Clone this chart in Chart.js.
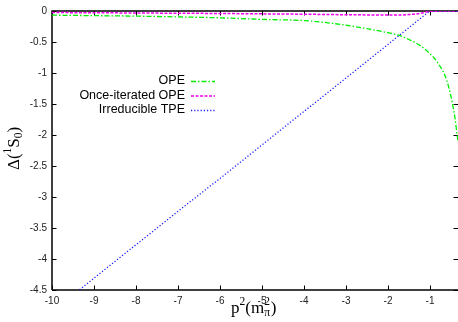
<!DOCTYPE html>
<html>
<head>
<meta charset="utf-8">
<script src="https://cdn.jsdelivr.net/npm/chart.js@4/dist/chart.umd.min.js"></script>
<style>
html,body{margin:0;padding:0;background:#fff;}
#c{display:block;}
</style>
</head>
<body>
<canvas id="c" width="458" height="322"></canvas>
<script>
// p^2 in units of m_pi^2
const p2 = [-10,-9,-8,-7,-6,-5,-4,-3.5,-3,-2.5,-2,-1.75,-1.5,-1.25,-1,-0.9,-0.8,-0.7,-0.6,-0.5,-0.45,-0.4,-0.36,-0.33];
const opeValues = [-0.067,-0.075,-0.083,-0.095,-0.11,-0.135,-0.155,-0.185,-0.23,-0.285,-0.35,-0.39,-0.46,-0.55,-0.69,-0.76,-0.85,-0.96,-1.12,-1.38,-1.55,-1.75,-1.97,-2.12];
const onceIteratedValues = [-0.025,-0.028,-0.032,-0.036,-0.04,-0.046,-0.052,-0.056,-0.06,-0.063,-0.065,-0.065,-0.058,-0.04,-0.005,-0.003,-0.002,-0.002,-0.002,-0.002,-0.002,-0.002,-0.002,-0.002];
const tpeValues = [-4.85,-4.31,-3.77,-3.23,-2.70,-2.16,-1.62,-1.35,-1.08,-0.81,-0.54,-0.40,-0.27,-0.13,0.0,-0.003,-0.003,-0.003,-0.003,-0.003,-0.003,-0.003,-0.003,-0.003];
const seriesNames = ["OPE","Once-iterated OPE","Irreducible TPE"];
const xTicks = [-10,-9,-8,-7,-6,-5,-4,-3,-2,-1];
const yTicks = [0,-0.5,-1,-1.5,-2,-2.5,-3,-3.5,-4,-4.5];

const pts = vals => p2.map((x,i)=>({x:x,y:vals[i]}));

const styles = [
  {color:'#00ee00', dash:[5,2,1.5,2], width:1.3},
  {color:'#ee00ee', dash:[3,1.5], width:1.5},
  {color:'#1a1aff', dash:[1.2,2], width:1.3}
];

function drawParts(ctx, parts, x0, y0){
  let x=x0;
  parts.forEach(p=>{
    ctx.font=p.f;
    ctx.fillText(p.t,x,y0+p.dy);
    const w=ctx.measureText(p.t).width;
    if(!p.keep) x+=Math.max(w,p.minW||0);
  });
}

const frame = {
  id:'frame',
  beforeDatasetsDraw(chart){
    const {ctx, chartArea:a, scales} = chart;
    ctx.save();
    ctx.strokeStyle='#000';
    ctx.lineWidth=1.5;
    ctx.beginPath();
    ctx.moveTo(a.left, a.bottom); ctx.lineTo(a.left, a.top); ctx.lineTo(a.right+2, a.top);
    ctx.moveTo(a.left, a.bottom); ctx.lineTo(a.right+2, a.bottom);
    ctx.stroke();
    ctx.lineWidth=1;
    const tl=4.5;
    ctx.beginPath();
    xTicks.forEach(v=>{
      const px=Math.round(scales.x.getPixelForValue(v))+0.5;
      ctx.moveTo(px,a.bottom); ctx.lineTo(px,a.bottom-tl);
      ctx.moveTo(px,a.top); ctx.lineTo(px,a.top+tl);
    });
    yTicks.forEach(v=>{
      const py=Math.round(scales.y.getPixelForValue(v))+0.5;
      ctx.moveTo(a.left,py); ctx.lineTo(a.left+tl,py);
      ctx.moveTo(a.right,py); ctx.lineTo(a.right-tl,py);
    });
    ctx.stroke();
    ctx.restore();
  },
  afterDraw(chart){
    const {ctx} = chart;
    ctx.save();
    // legend
    ctx.font='12.5px "Liberation Sans", Arial, sans-serif';
    ctx.fillStyle='#000';
    ctx.textAlign='right';
    ctx.textBaseline='middle';
    const rows=[81,95.5,110];
    seriesNames.forEach((n,i)=>{
      ctx.fillText(n,185,rows[i]);
      ctx.save();
      ctx.strokeStyle=styles[i].color;
      ctx.lineWidth=styles[i].width;
      ctx.setLineDash(styles[i].dash);
      ctx.beginPath();
      ctx.moveTo(191,rows[i]+0.5); ctx.lineTo(215,rows[i]+0.5);
      ctx.stroke();
      ctx.restore();
    });
    ctx.textAlign='left';
    ctx.textBaseline='alphabetic';
    const big='17px "Liberation Serif", "Times New Roman", serif';
    const small='11.5px "Liberation Serif", "Times New Roman", serif';
    // x title: p^2(m_pi^2)
    drawParts(ctx,[
      {t:'p',f:big,dy:0},{t:'2',f:small,dy:-8},{t:'(m',f:big,dy:0},
      {t:'π',f:small,dy:3,keep:true},{t:'2',f:small,dy:-8,minW:6.5},{t:')',f:big,dy:0}
    ],231,313);
    // y title: Δ(^1S_0)
    ctx.translate(19,170);
    ctx.rotate(-Math.PI/2);
    drawParts(ctx,[
      {t:'Δ(',f:big,dy:0},{t:'1',f:small,dy:-8},{t:'S',f:big,dy:0},{t:'0',f:small,dy:3},{t:')',f:big,dy:0}
    ],0,0);
    ctx.restore();
  }
};

const datasets=[opeValues,onceIteratedValues,tpeValues].map((v,i)=>({
  label:seriesNames[i],
  data:pts(v),
  borderColor:styles[i].color,
  borderWidth:styles[i].width,
  borderDash:styles[i].dash,
  pointRadius:0,
  fill:false,
  tension:0,
  cubicInterpolationMode: i===2 ? 'default' : 'monotone'
}));

const tickFont={family:'"Liberation Sans", Arial, sans-serif',size:10};
new Chart(document.getElementById('c'),{
  type:'line',
  data:{datasets},
  options:{
    responsive:false,
    animation:false,
    devicePixelRatio:1,
    layout:{padding:{top:10,left:0,right:0,bottom:0}},
    plugins:{legend:{display:false},tooltip:{enabled:false}},
    scales:{
      x:{type:'linear',min:-10,max:-1/3,
        afterBuildTicks:s=>{s.ticks=xTicks.map(v=>({value:v}));},
        afterFit:s=>{s.height=32;},
        grid:{display:false,drawTicks:false},border:{display:false},
        ticks:{padding:5,autoSkip:false,maxRotation:0,color:'#222',font:tickFont,callback:v=>String(v)}},
      y:{type:'linear',min:-4.5,max:0,
        afterBuildTicks:s=>{s.ticks=yTicks.map(v=>({value:v}));},
        afterFit:s=>{s.width=52;},
        grid:{display:false,drawTicks:false},border:{display:false},
        ticks:{padding:5,autoSkip:false,color:'#222',font:tickFont,callback:v=>String(v)}}
    }
  },
  plugins:[frame]
});
</script>
</body>
</html>
